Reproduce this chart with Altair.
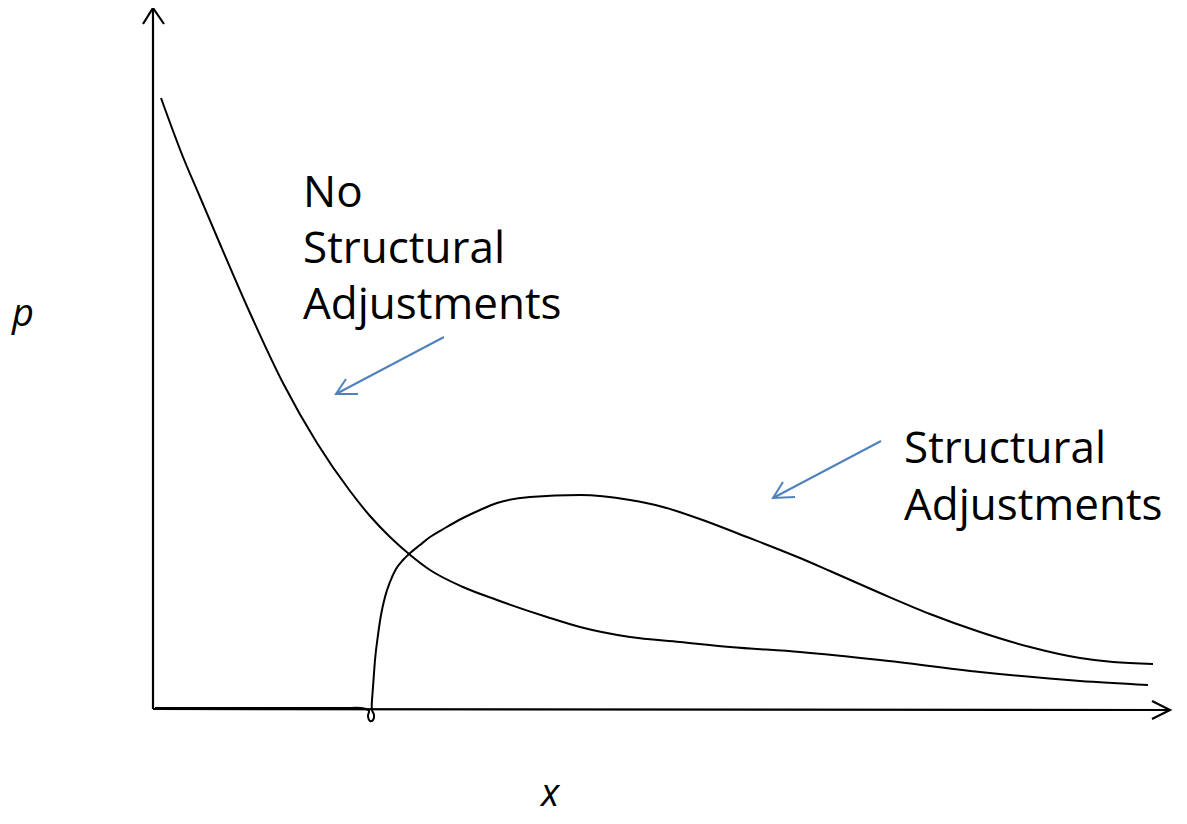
import altair as alt
import pandas as pd

# ---- data (x and p in axis units; axis origin at 0,0) ----
nsa_x = [0.08, 0.30, 0.47, 0.64, 0.97, 1.30, 1.64, 1.97, 2.17, 2.37, 2.56, 2.77,
         3.10, 3.44, 3.94, 4.27, 4.77, 5.27, 5.77, 6.47, 7.27, 8.27, 9.27, 9.95]
nsa_p = [6.11, 5.52, 5.12, 4.72, 3.96, 3.26, 2.66, 2.18, 1.93, 1.72, 1.55, 1.39,
         1.22, 1.09, 0.92, 0.82, 0.72, 0.67, 0.62, 0.57, 0.49, 0.37, 0.28, 0.24]

# structural adjustments: flat start along the axis with a small loop
sa_base_x = [0.02, 1.00, 1.90, 2.08, 2.13, 2.16, 2.15, 2.17, 2.20, 2.21, 2.19, 2.19]
sa_base_p = [0.01, 0.01, 0.01, 0.01, 0.0, -0.02, -0.07, -0.12, -0.11, -0.06, -0.01, 0.09]

# structural adjustments: main hump
sa_x = [2.19, 2.20, 2.22, 2.25, 2.28, 2.32, 2.37, 2.43, 2.50, 2.56, 2.67, 2.77,
        2.92, 3.10, 3.27, 3.44, 3.77, 4.27, 4.77, 5.10, 5.44, 5.94, 6.47, 6.77,
        7.27, 7.77, 8.27, 8.77, 9.27, 9.60, 10.00]
sa_p = [0.09, 0.22, 0.49, 0.74, 0.94, 1.12, 1.27, 1.40, 1.49, 1.55, 1.64, 1.72,
        1.81, 1.91, 1.99, 2.06, 2.12, 2.14, 2.09, 2.02, 1.91, 1.72, 1.51, 1.38,
        1.16, 0.95, 0.77, 0.62, 0.51, 0.47, 0.45]

# axis arrows
axis_names = ["yaxis", "yaxis", "yhead", "yhead", "yhead",
              "xaxis", "xaxis", "xhead", "xhead", "xhead"]
axis_x = [0.0, 0.0, -0.10, 0.0, 0.11, 0.0, 10.17, 9.99, 10.17, 9.99]
axis_p = [0.0, 7.01, 6.85, 7.01, 6.85, 0.0, -0.01, 0.08, -0.01, -0.10]

# annotation arrows
arrow_names = ["a1", "a1", "h1", "h1", "h1", "a2", "a2", "h2", "h2", "h2"]
arrow_x = [2.91, 1.83, 1.93, 1.83, 2.05, 7.28, 6.20, 6.30, 6.20, 6.42]
arrow_p = [3.72, 3.15, 3.30, 3.15, 3.15, 2.68, 2.11, 2.27, 2.11, 2.12]

# labels
label_text = ["No", "Structural", "Adjustments", "Structural", "Adjustments"]
label_x = [1.50, 1.50, 1.50, 7.51, 7.51]
label_p = [5.02, 4.46, 3.90, 2.46, 1.89]

axis_label_text = ["p", "x"]
axis_label_x = [-1.30, 3.97]
axis_label_p = [3.83, -0.97]

X_DOMAIN = [-1.45, 10.26]
P_DOMAIN = [-1.07, 7.01]

# ---- tables ----
smooth_df = pd.DataFrame({
    "x": nsa_x + sa_x,
    "p": nsa_p + sa_p,
    "series": ["No Structural Adjustments"] * len(nsa_x) + ["Structural Adjustments"] * len(sa_x),
    "order": list(range(len(nsa_x))) + list(range(len(sa_x))),
})
base_df = pd.DataFrame({"x": sa_base_x, "p": sa_base_p,
                        "order": list(range(len(sa_base_x)))})
axes_df = pd.DataFrame({"x": axis_x, "p": axis_p, "part": axis_names,
                        "order": list(range(len(axis_x)))})
arrows_df = pd.DataFrame({"x": arrow_x, "p": arrow_p, "part": arrow_names,
                          "order": list(range(len(arrow_x)))})
labels_df = pd.DataFrame({"x": label_x, "p": label_p, "text": label_text})
axlab_df = pd.DataFrame({"x": axis_label_x, "p": axis_label_p, "text": axis_label_text})

xs = alt.Scale(domain=X_DOMAIN, nice=False, zero=False)
ys = alt.Scale(domain=P_DOMAIN, nice=False, zero=False)
X = alt.X("x:Q", scale=xs, axis=None)
Y = alt.Y("p:Q", scale=ys, axis=None)

curve_layer = alt.Chart(smooth_df).mark_line(
    interpolate="monotone", color="black", strokeWidth=2
).encode(x=X, y=Y, detail="series:N", order="order:Q")

base_layer = alt.Chart(base_df).mark_line(
    interpolate="catmull-rom", color="black", strokeWidth=2
).encode(x=X, y=Y, order="order:Q")

axes_layer = alt.Chart(axes_df).mark_line(
    color="black", strokeWidth=2.2
).encode(x=X, y=Y, detail="part:N", order="order:Q")

arrow_layer = alt.Chart(arrows_df).mark_line(
    color="#4F81BD", strokeWidth=2
).encode(x=X, y=Y, detail="part:N", order="order:Q")

label_layer = alt.Chart(labels_df).mark_text(
    align="left", baseline="alphabetic", font="Open Sans", fontSize=44, color="black"
).encode(x=X, y=Y, text="text:N")

axlab_layer = alt.Chart(axlab_df).mark_text(
    align="center", baseline="alphabetic", font="Open Sans", fontSize=38,
    fontStyle="italic", color="black"
).encode(x=X, y=Y, text="text:N")

chart = alt.layer(axes_layer, base_layer, curve_layer, arrow_layer, label_layer, axlab_layer).properties(
    width=1171, height=808, padding=0, autosize=alt.AutoSizeParams(type="none")
).configure_view(stroke=None)

chart.save("out.html", embed_options={"renderer": "svg", "actions": False})
